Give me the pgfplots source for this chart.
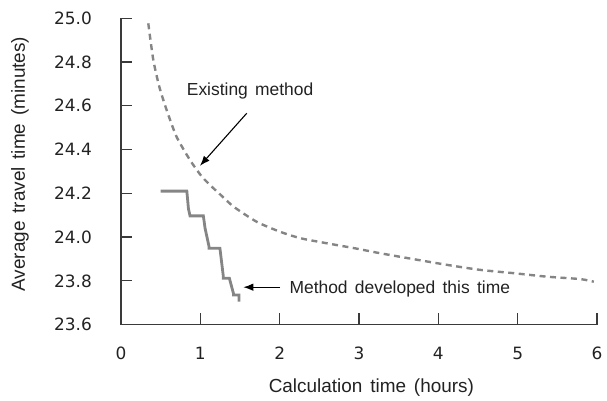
\documentclass[border=0pt]{standalone}
\usepackage{fontspec}
\setmainfont{Liberation Sans}[WordSpace=1.5]
\newfontfamily\tickfont{DejaVu Sans}
\usepackage{pgfplots}
\pgfplotsset{compat=1.18}
\usetikzlibrary{arrows.meta}
\definecolor{linegray}{HTML}{858585}
\definecolor{axisgray}{HTML}{3A3A3A}
\definecolor{txt}{HTML}{222222}

\begin{document}
\begin{tikzpicture}
  \begin{axis}[
    name=ax,
    scale only axis,
    width=476bp, height=306.3bp,
    xmin=0, xmax=6,
    ymin=23.6, ymax=25.0,
    clip=false,
    axis lines=left,
    axis line style={-, line width=1.3bp, color=axisgray},
    tick style={line width=1.2bp, color=axisgray},
    tick align=inside,
    major tick length=11.5bp,
    xtick={0,1,2,3,4,5,6},
    ytick={23.6,23.8,24.0,24.2,24.4,24.6,24.8,25.0},
    /pgf/number format/assume math mode=true,
    ticklabel style={font=\tickfont\fontsize{17}{20}\selectfont, text=txt},
    yticklabel style={/pgf/number format/fixed, /pgf/number format/fixed zerofill,
      /pgf/number format/precision=1, anchor=east, inner sep=0pt, xshift=-29bp},
    xticklabel style={anchor=north, inner sep=0pt, yshift=-22bp},
    xlabel={Calculation time (hours)},
    ylabel={Average travel time (minutes)},
    xlabel style={at={(axis description cs:0.526,-0.207)}, anchor=center,
      font=\fontsize{19}{22}\selectfont, text=txt},
    ylabel style={at={(axis description cs:-0.2122,0.524)}, anchor=center,
      font=\fontsize{19}{22}\selectfont, text=txt},
  ]
    % existing method
    \addplot[color=linegray, line width=2.4bp, dash pattern=on 6bp off 4.5bp, smooth, tension=0.4]
      coordinates {
        (0.344,24.977) (0.407,24.81) (0.483,24.687) (0.576,24.58) (0.70,24.459)
        (0.87,24.352) (1.02,24.276) (1.16,24.225) (1.25,24.195) (1.42,24.139)
        (1.71,24.07) (2.00,24.025) (2.26,23.995) (2.59,23.972) (2.93,23.95)
        (3.27,23.926) (3.69,23.899) (4.11,23.873) (4.53,23.85) (4.95,23.835)
        (5.37,23.819) (5.79,23.808) (5.96,23.796)
      };
    % method developed this time
    \addplot[color=linegray, line width=2.8bp]
      coordinates {
        (0.50,24.21) (0.83,24.21) (0.85,24.13) (0.87,24.097) (1.038,24.097)
        (1.06,24.04) (1.11,23.956) (1.11,23.949) (1.247,23.949) (1.27,23.88)
        (1.29,23.82) (1.29,23.812) (1.366,23.812) (1.417,23.743) (1.417,23.735)
        (1.488,23.735) (1.488,23.705)
      };
    \draw[-{Latex[length=10bp,width=7.5bp]}, line width=1.1bp, black]
      (axis cs:1.585,24.566) -- (axis cs:0.996,24.326);
    \draw[-{Latex[length=10bp,width=7.5bp]}, line width=1.1bp, black]
      (axis cs:2.005,23.771) -- (axis cs:1.542,23.771);
    \node[anchor=base west, inner sep=0pt, text=txt, font=\fontsize{17.5}{20}\selectfont]
      at (axis cs:0.828,24.646) {Existing method};
    \node[anchor=base west, inner sep=0pt, text=txt, font=\fontsize{17.5}{20}\selectfont]
      at (axis cs:2.122,23.740) {Method developed this time};
  \end{axis}
  \pgfresetboundingbox
  \path[use as bounding box] ([xshift=-121bp,yshift=-76.4bp]ax.south west) rectangle ++(607bp,401bp);
\end{tikzpicture}
\end{document}
